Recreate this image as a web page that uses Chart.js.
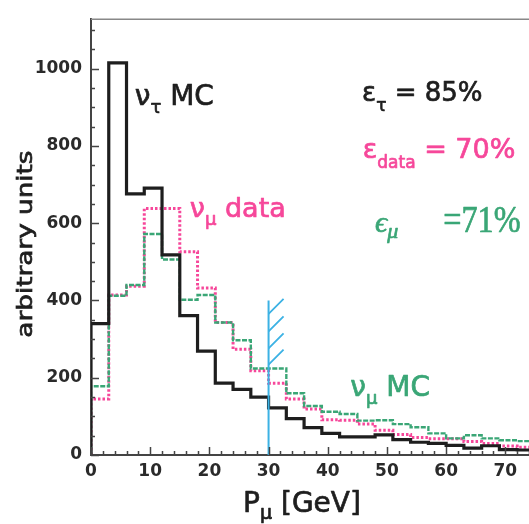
<!DOCTYPE html>
<html>
<head>
<meta charset="utf-8">
<script src="https://cdn.jsdelivr.net/npm/chart.js@4.4.0/dist/chart.umd.min.js"></script>
<style>
  html, body { margin: 0; padding: 0; background: #fff; }
</style>
</head>
<body>
<canvas id="hist" width="529" height="524"></canvas>
<script>
// bin edges of the momentum histogram (GeV)
const binEdges = [0, 3, 6, 9, 12, 15, 18, 21, 24, 27, 30, 33, 36, 39, 42, 45, 48, 51, 54, 57, 60, 63, 66, 69, 72, 75];

// contents per bin (arbitrary units)
const nuTauMC = [340, 1015, 676, 691, 518, 361, 269, 186, 170, 150, 122, 94, 71, 56, 47, 47, 52, 40, 33, 30, 25, 18, 24, 14, 13];
const nuMuData = [145, 414, 437, 638, 638, 526, 432, 343, 274, 218, 186, 145, 119, 91, 90, 80, 64, 53, 45, 42, 42, 35, 30, 23, 20];
const nuMuMC = [178, 412, 440, 572, 506, 402, 414, 343, 297, 224, 224, 160, 127, 112, 106, 89, 90, 80, 72, 56, 43, 51, 43, 38, 36];

const xTickLabels = [0, 10, 20, 30, 40, 50, 60, 70];
const yTickLabels = [0, 200, 400, 600, 800, 1000];

// momentum cut
const cutValue = 30;
const cutTop = 400;
const cutHatch = [365, 320, 276, 234];

const BLACK = '#1e1e1e';
const PINK = '#f6479a';
const GREEN = '#3aa676';
const BLUE = '#3cb2e4';

function histPoints(vals) {
    const pts = [{ x: binEdges[0], y: 0 }];
    binEdges.forEach((e, i) => pts.push({ x: e, y: vals[Math.min(i, vals.length - 1)] }));
    return pts;
}

// draw a row of text pieces (for subscripts), slightly thickened like the scan
function drawRuns(ctx, x, y, runs, color, sx) {
    ctx.save();
    ctx.translate(x, y);
    ctx.scale(sx || 1, 1);
    ctx.fillStyle = color;
    ctx.strokeStyle = color;
    ctx.lineWidth = 0.7;
    ctx.lineJoin = 'round';
    ctx.textAlign = 'left';
    ctx.textBaseline = 'alphabetic';
    let cx = 0;
    runs.forEach(r => {
        cx += r.gap || 0;
        ctx.font = r.font;
        ctx.fillText(r.t, cx, r.dy || 0);
        ctx.strokeText(r.t, cx, r.dy || 0);
        cx += ctx.measureText(r.t).width;
    });
    ctx.restore();
}

const SANS = '"DejaVu Sans"';
const SERIF = '"Liberation Serif", "DejaVu Serif"';

// text labels, placed in data coordinates
const notes = [
    { x: 7.4, y: 907, color: BLACK, runs: [
        { t: 'ν', font: '28px ' + SANS }, { t: 'τ', font: '18px ' + SANS, dy: 8 }, { t: ' MC', font: '28px ' + SANS }] },
    { x: 16.7, y: 617, color: PINK, runs: [
        { t: 'ν', font: '27px ' + SANS }, { t: 'μ', font: '18px ' + SANS, dy: 8 }, { t: ' data', font: '27px ' + SANS }] },
    { x: 43.8, y: 152, color: GREEN, runs: [
        { t: 'ν', font: '28px ' + SANS }, { t: 'μ', font: '18px ' + SANS, dy: 8 }, { t: ' MC', font: '28px ' + SANS }] },
    { x: 45.8, y: 915, color: BLACK, runs: [
        { t: 'ε', font: '26px ' + SANS }, { t: 'τ', font: '17px ' + SANS, dy: 10 }, { t: ' = 85%', font: '26px ' + SANS }] },
    { x: 45.9, y: 770, color: PINK, runs: [
        { t: 'ε', font: '27px ' + SANS }, { t: 'data', font: '17px ' + SANS, dy: 10 }, { t: ' = 70%', font: '27px ' + SANS }] },
    { x: 48.0, y: 577, color: GREEN, runs: [
        { t: 'ϵ', font: 'italic 30px ' + SERIF }, { t: 'μ', font: 'italic 22px ' + SERIF, dy: 6 }] },
    { x: 59.5, y: 577, color: GREEN, sx: 0.85, runs: [
        { t: '=71%', font: '38px ' + SERIF }] }
];

const decorations = {
    id: 'decorations',
    afterDraw(chart) {
        const { ctx, chartArea: a, scales: { x, y } } = chart;
        ctx.save();
        // top frame line
        ctx.strokeStyle = '#888';
        ctx.lineWidth = 1.5;
        ctx.beginPath();
        ctx.moveTo(a.left, a.top);
        ctx.lineTo(a.right, a.top);
        ctx.stroke();

        // inward tick marks
        ctx.strokeStyle = '#444';
        ctx.lineWidth = 1.5;
        ctx.beginPath();
        for (let v = 0; v <= 1100; v += 50) {
            const py = Math.round(y.getPixelForValue(v)) + 0.5;
            const len = v % 200 === 0 ? 8 : 4;
            ctx.moveTo(a.left, py);
            ctx.lineTo(a.left + len, py);
        }
        for (let v = 0; v <= 74; v += 2) {
            const px = Math.round(x.getPixelForValue(v)) + 0.5;
            const len = v % 10 === 0 ? 8 : 4;
            ctx.moveTo(px, a.bottom);
            ctx.lineTo(px, a.bottom - len);
        }
        ctx.stroke();

        // hatching on the cut line
        const cx = x.getPixelForValue(cutValue);
        ctx.strokeStyle = BLUE;
        ctx.lineWidth = 1.8;
        ctx.beginPath();
        cutHatch.forEach(v => {
            const py = y.getPixelForValue(v);
            ctx.moveTo(cx, py);
            ctx.lineTo(cx + 15, py - 15);
        });
        ctx.stroke();
        ctx.restore();

        notes.forEach(n => drawRuns(ctx, x.getPixelForValue(n.x), y.getPixelForValue(n.y), n.runs, n.color, n.sx));

        // axis titles
        drawRuns(ctx, x.getPixelForValue(25.7), a.bottom + 57, [
            { t: 'P', font: '28px ' + SANS }, { t: 'μ', font: '19px ' + SANS, dy: 7 }, { t: ' [GeV]', font: '28px ' + SANS }
        ], BLACK);

        ctx.save();
        ctx.translate(32, y.getPixelForValue(546));
        ctx.rotate(-Math.PI / 2);
        ctx.scale(1.25, 1);
        ctx.font = '21px ' + SANS;
        ctx.fillStyle = BLACK;
        ctx.strokeStyle = BLACK;
        ctx.lineWidth = 0.7;
        ctx.textAlign = 'center';
        ctx.textBaseline = 'alphabetic';
        ctx.fillText('arbitrary units', 0, 0);
        ctx.strokeText('arbitrary units', 0, 0);
        ctx.restore();
    }
};

const ctx = document.getElementById('hist').getContext('2d');
const chart = new Chart(ctx, {
    type: 'line',
    data: {
        datasets: [
            {
                label: 'nu_tau MC',
                data: histPoints(nuTauMC),
                stepped: 'before',
                borderColor: BLACK,
                borderWidth: 3.2,
                pointRadius: 0,
                order: 1
            },
            {
                label: 'nu_mu MC',
                data: histPoints(nuMuMC),
                stepped: 'before',
                borderColor: GREEN,
                borderWidth: 2.4,
                borderDash: [5, 1.5],
                pointRadius: 0,
                order: 2
            },
            {
                label: 'nu_mu data',
                data: histPoints(nuMuData),
                stepped: 'before',
                borderColor: PINK,
                borderWidth: 3,
                borderDash: [2.5, 2],
                pointRadius: 0,
                order: 3
            },
            {
                label: 'cut',
                data: [{ x: cutValue, y: 0 }, { x: cutValue, y: cutTop }],
                borderColor: BLUE,
                borderWidth: 2,
                pointRadius: 0,
                order: 0
            }
        ]
    },
    options: {
        responsive: false,
        animation: false,
        layout: { padding: { top: 12, right: 0, bottom: 0, left: 0 } },
        plugins: {
            legend: { display: false },
            tooltip: { enabled: false }
        },
        scales: {
            x: {
                type: 'linear',
                min: 0,
                max: 74,
                afterFit: s => { s.height = 69; },
                afterBuildTicks: s => { s.ticks = xTickLabels.map(v => ({ value: v })); },
                grid: { display: false, drawTicks: false },
                border: { display: true, color: '#444', width: 2 },
                ticks: {
                    font: { family: 'DejaVu Sans', size: 17, weight: 'bold' },
                    color: '#2a2a2a',
                    padding: 6,
                    maxRotation: 0,
                    autoSkip: false,
                    callback: v => String(v)
                }
            },
            y: {
                type: 'linear',
                min: 0,
                max: 1128,
                afterFit: s => { s.width = 91; },
                afterBuildTicks: s => { s.ticks = yTickLabels.map(v => ({ value: v })); },
                grid: { display: false, drawTicks: false },
                border: { display: true, color: '#444', width: 2 },
                ticks: {
                    font: { family: 'DejaVu Sans', size: 17, weight: 'bold' },
                    color: '#2a2a2a',
                    padding: 9,
                    autoSkip: false,
                    callback: v => String(v)
                }
            }
        }
    },
    plugins: [decorations]
});
</script>
</body>
</html>
